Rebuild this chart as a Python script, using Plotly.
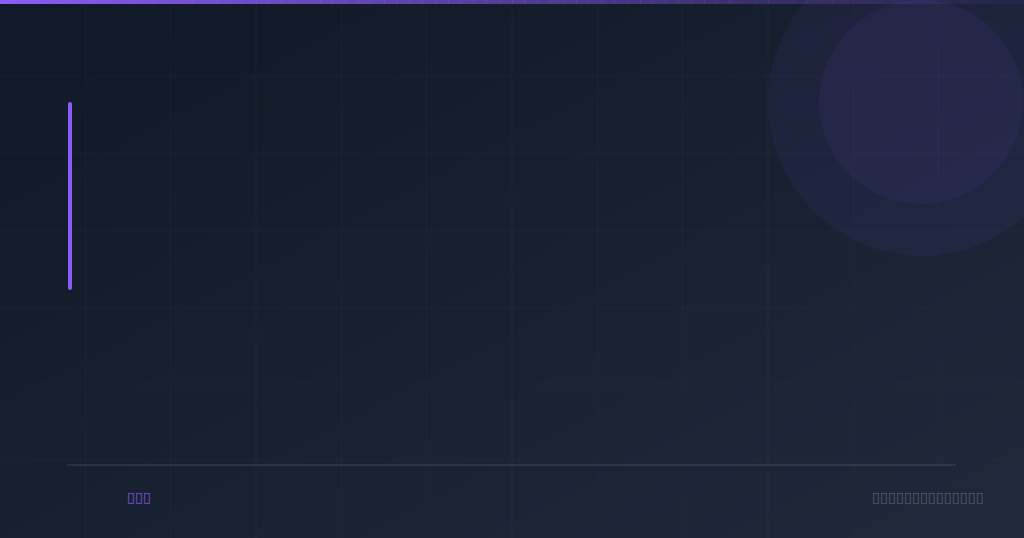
import plotly.graph_objects as go

# page size and texts (the labels render as empty boxes in the reference)
W, H = 1024, 538
brand_text = "▯▯▯"
footer_text = "▯▯▯▯▯▯▯▯▯▯▯▯▯▯"

bg_colors = ["#111827", "#1e293b"]
accent = "#8b5cf6"

fig = go.Figure()

# diagonal background gradient
fig.add_trace(go.Heatmap(
    x=[0, W], y=[0, H], z=[[0, 0.5], [0.5, 1]],
    colorscale=[[0, bg_colors[0]], [1, bg_colors[1]]],
    zsmooth="best", showscale=False, hoverinfo="skip",
))

shapes = []

# faint grid
for i in range(1, 12):
    x = i * W / 12
    shapes.append(dict(type="line", x0=x, x1=x, y0=0, y1=H,
                       line=dict(color="rgba(148,163,184,0.05)", width=1)))
for j in range(1, 7):
    y = j * 76.8
    shapes.append(dict(type="line", x0=0, x1=W, y0=y, y1=y,
                       line=dict(color="rgba(148,163,184,0.05)", width=1)))

# decorative circles top right
shapes.append(dict(type="circle", x0=768, x1=1076, y0=-52, y1=256,
                   fillcolor="rgba(139,92,246,0.065)", line=dict(width=0)))
shapes.append(dict(type="circle", x0=819, x1=1023, y0=0, y1=204,
                   fillcolor="rgba(139,92,246,0.065)", line=dict(width=0)))

# top accent bar fading to the right
n = 80
for k in range(n):
    a = 1 - 0.95 * k / (n - 1)
    shapes.append(dict(type="rect", x0=k * W / n, x1=(k + 1) * W / n + 0.5,
                       y0=0, y1=4, fillcolor=f"rgba(139,92,246,{a:.3f})",
                       line=dict(width=0)))

# vertical accent bar with rounded ends
shapes.append(dict(type="line", x0=70, x1=70, y0=104, y1=288,
                   line=dict(color=accent, width=4)))
shapes.append(dict(type="circle", x0=68, x1=72, y0=102, y1=106,
                   fillcolor=accent, line=dict(width=0)))
shapes.append(dict(type="circle", x0=68, x1=72, y0=286, y1=290,
                   fillcolor=accent, line=dict(width=0)))

# footer divider
shapes.append(dict(type="line", x0=67, x1=956, y0=465, y1=465,
                   line=dict(color="rgba(148,163,184,0.14)", width=2)))

fig.update_layout(
    width=W, height=H,
    margin=dict(l=0, r=0, t=0, b=0),
    paper_bgcolor=bg_colors[0], plot_bgcolor=bg_colors[0],
    xaxis=dict(range=[0, W], visible=False, fixedrange=True),
    yaxis=dict(range=[H, 0], visible=False, fixedrange=True),
    shapes=shapes,
    showlegend=False,
    annotations=[
        dict(x=125, y=497, text=brand_text, showarrow=False, xanchor="left",
             yanchor="middle", font=dict(family="DejaVu Sans", size=14.5, color="#7a52dc")),
        dict(x=986, y=497, text=footer_text, showarrow=False, xanchor="right",
             yanchor="middle", font=dict(family="DejaVu Sans", size=14.5, color="#4f5d72")),
    ],
)

fig.write_html("out.html", config={"displayModeBar": False},
               post_script="document.body.style.margin='0';")
